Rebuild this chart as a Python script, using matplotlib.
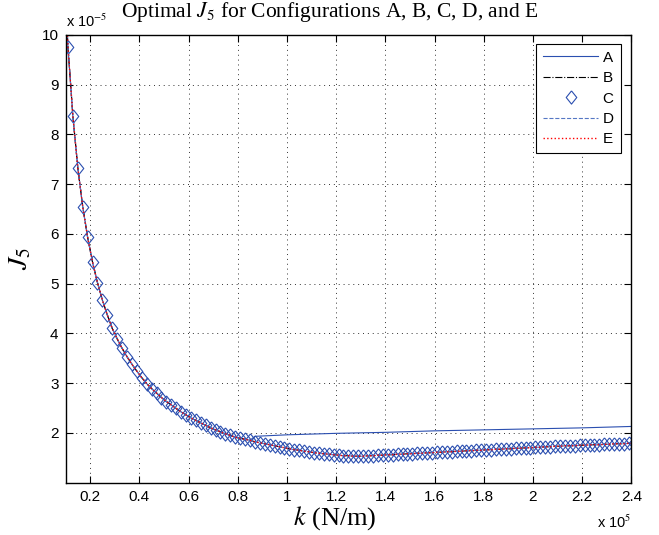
import numpy as np
import matplotlib
matplotlib.use('Agg')
import matplotlib.pyplot as plt

plt.rcParams['mathtext.fontset'] = 'stix'

# stiffness k in units of 1e5 N/m, J5 in units of 1e-5
k = np.round(np.arange(0.09, 2.42, 0.02), 2)

J_main = [11.8, 9.76, 8.37, 7.33, 6.55, 5.93, 5.43, 5.02, 4.67, 4.37,
          4.10, 3.89, 3.70, 3.53, 3.38, 3.24, 3.11, 2.99, 2.89, 2.80,
          2.71, 2.63, 2.56, 2.49, 2.42, 2.36, 2.30, 2.25, 2.20, 2.15,
          2.10, 2.06, 2.02, 1.98, 1.95, 1.91, 1.89, 1.87, 1.85, 1.82,
          1.80, 1.78, 1.76, 1.74, 1.72, 1.70, 1.68, 1.66, 1.65, 1.63,
          1.62, 1.60, 1.59, 1.58, 1.57, 1.56, 1.55, 1.54, 1.54, 1.53,
          1.53, 1.53, 1.54, 1.54, 1.55, 1.55, 1.56, 1.56, 1.57, 1.57,
          1.58, 1.58, 1.59, 1.59, 1.60, 1.60, 1.61, 1.61, 1.62, 1.62,
          1.63, 1.63, 1.64, 1.64, 1.65, 1.65, 1.66, 1.66, 1.67, 1.67,
          1.68, 1.68, 1.69, 1.69, 1.70, 1.70, 1.71, 1.71, 1.72, 1.72,
          1.73, 1.73, 1.74, 1.74, 1.74, 1.75, 1.75, 1.76, 1.76, 1.76,
          1.77, 1.77, 1.78, 1.78, 1.78, 1.79, 1.79]

# configuration A leaves the common curve near k = 0.85e5
k_A_tail = [0.87, 1.0, 1.2, 1.4, 1.6, 1.8, 2.0, 2.2, 2.41]
J_A_tail = [1.93, 1.96, 1.99, 2.01, 2.04, 2.06, 2.08, 2.10, 2.13]

n_split = int(np.searchsorted(k, 0.855))
k_A = list(k[:n_split]) + k_A_tail
J_A = J_main[:n_split] + J_A_tail

labels = ['A', 'B', 'C', 'D', 'E']
x_ticks = [0.2, 0.4, 0.6, 0.8, 1, 1.2, 1.4, 1.6, 1.8, 2, 2.2, 2.4]
y_ticks = [2, 3, 4, 5, 6, 7, 8, 9, 10]

# slightly tall diamond, like MATLAB's marker
diamond = [(0, 1), (0.8, 0), (0, -1), (-0.8, 0), (0, 1)]

fig = plt.figure(figsize=(6.59, 5.35), dpi=100)
ax = fig.add_axes([0.0994, 0.098, 0.8586, 0.8366])

blue = '#2b4fb0'
ax.plot(k_A, J_A, '-', color=blue, lw=0.8, label=labels[0])
ax.plot(k, J_main, '-.', color='black', lw=0.8, label=labels[1])
ax.plot(k, J_main, ls='none', marker=diamond, color=blue, ms=9.5, mfc='none',
        mew=0.8, label=labels[2])
ax.plot(k, J_main, '--', color='#5577c4', lw=0.8, label=labels[3])
ax.plot(k, J_main, ':', color='red', lw=1.0, label=labels[4])

ax.set_xlim(0.1, 2.4)
ax.set_ylim(1, 10)
ax.set_xticks(x_ticks)
ax.set_xticklabels([f'{v:g}' for v in x_ticks])
ax.set_yticks(y_ticks)
ax.set_yticklabels([f'{v:g}' for v in y_ticks])
ax.grid(True, linestyle=(0, (1, 4)), color='#333333', lw=0.7)

ax.tick_params(direction='in', top=True, right=True, length=5, width=0.8,
               labelsize=11, pad=5)
for lab in ax.get_xticklabels() + ax.get_yticklabels():
    lab.set_family('Liberation Sans')
for s in ax.spines.values():
    s.set_linewidth(1.0)

ax.text(0.0, 1.012, r'x 10$^{-5}$', transform=ax.transAxes, fontsize=10.5,
        family='Liberation Sans', ha='left', va='bottom')
ax.text(1.0, -0.07, r'x 10$^{5}$', transform=ax.transAxes, fontsize=10.5,
        family='Liberation Sans', ha='right', va='top')

fig.text(0.5, 0.977, r'Optimal $J_5$ for Configurations A, B, C, D, and E',
         family='Liberation Serif', fontsize=15.5, ha='center', va='center')
fig.text(0.508, 0.032, r'$k$ (N/m)', family='Liberation Serif', fontsize=19,
         ha='center', va='center')
ax.set_ylabel(r'$J_5$', family='Liberation Serif', fontsize=20, labelpad=6)

leg = ax.legend(loc='upper right', bbox_to_anchor=(0.981, 0.98), fancybox=False,
                edgecolor='black', framealpha=1, handlelength=3.6,
                borderaxespad=0, prop={'family': 'Liberation Sans', 'size': 11},
                labelspacing=0.42, borderpad=0.45, handletextpad=0.3)
leg.get_frame().set_linewidth(0.8)

fig.savefig('out.png', dpi=100)
